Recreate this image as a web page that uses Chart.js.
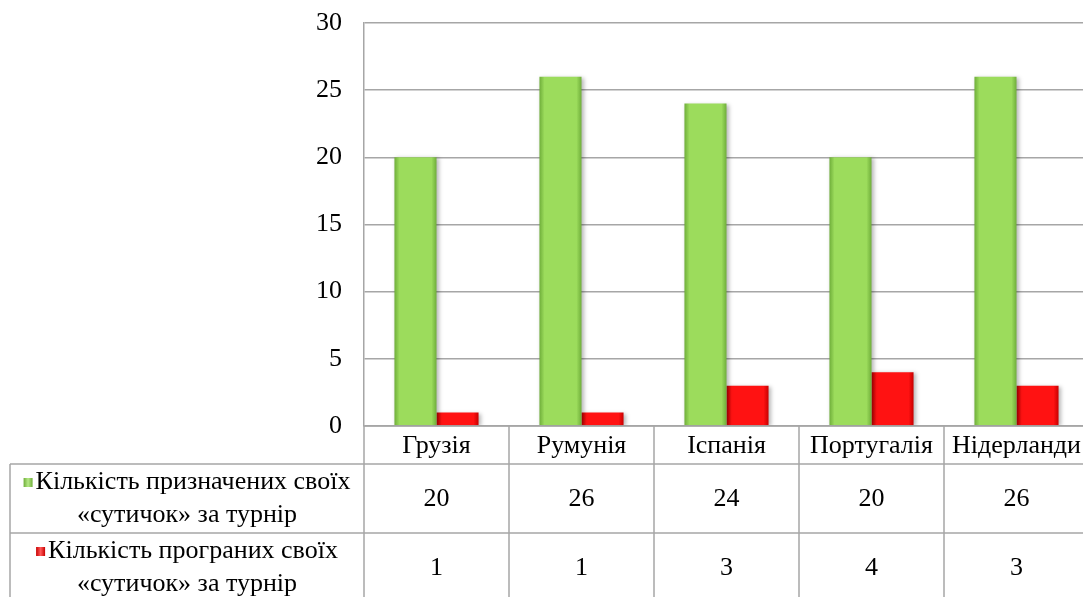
<!DOCTYPE html>
<html>
<head>
<meta charset="utf-8">
<script src="https://cdn.jsdelivr.net/npm/chart.js@4"></script>
<style>
html,body{margin:0;padding:0;background:#fff;overflow:hidden;}
#wrap{position:absolute;left:0;top:0;width:1090px;height:597px;}
</style>
</head>
<body>
<div id="wrap"><canvas id="c" width="1090" height="597"></canvas></div>
<script>
const categories = ['Грузія', 'Румунія', 'Іспанія', 'Португалія', 'Нідерланди'];
const assigned = [20, 26, 24, 20, 26];
const lost = [1, 1, 3, 4, 3];
const seriesNames = [
  ['Кількість призначених своїх', '«сутичок» за турнір'],
  ['Кількість програних своїх', '«сутичок» за турнір']
];
const yTicks = [0, 5, 10, 15, 20, 25, 30];

const FSIZE = 26;
const GRID = '#a6a6a6';
const CAT_PCT = 0.58;

// pick a serif family that really resolves on this canvas
function pickFont() {
  const t = document.createElement('canvas').getContext('2d');
  const sample = 'Кількість Грузія 0123456789';
  t.font = FSIZE + 'px "Liberation Sans"';
  const wSans = t.measureText(sample).width;
  t.font = FSIZE + 'px sans-serif';
  const wSans2 = t.measureText(sample).width;
  const candidates = ['"Liberation Serif"', 'Liberation Serif', '"Times New Roman"', 'Times', 'Tinos', 'serif', '"DejaVu Serif"'];
  for (const f of candidates) {
    t.font = FSIZE + 'px ' + f;
    const w = t.measureText(sample).width;
    if (Math.abs(w - wSans) > 0.5 && Math.abs(w - wSans2) > 0.5) return f;
  }
  return '"Liberation Serif"';
}
const FONT = pickFont();

const palettes = [
  {edge: '#6fae3a', mid: '#9cdc5c', light: '#b6e986'},
  {edge: '#c80000', mid: '#ff1212', light: '#ff5a5a'}
];

function barFill(ctx, dsIndex) {
  const chart = ctx.chart;
  const xs = chart.scales.x;
  if (!xs || ctx.dataIndex === undefined) return palettes[dsIndex].mid;
  const cw = xs.width / categories.length;
  const bw = cw * CAT_PCT / 2;
  const c = xs.getPixelForValue(ctx.dataIndex);
  const left = dsIndex === 0 ? c - bw : c;
  if (!isFinite(left) || !isFinite(bw) || bw <= 0) return palettes[dsIndex].mid;
  const g = chart.ctx.createLinearGradient(left, 0, left + bw, 0);
  const p = palettes[dsIndex];
  g.addColorStop(0, p.edge);
  g.addColorStop(0.12, p.mid);
  g.addColorStop(0.88, p.mid);
  g.addColorStop(1, p.edge);
  return g;
}

const shadowPlugin = {
  id: 'shadow',
  beforeDatasetsDraw(chart) {
    const c = chart.ctx;
    c.save();
    c.shadowColor = 'rgba(0,0,0,0.28)';
    c.shadowBlur = 4;
    c.shadowOffsetX = 2;
    c.shadowOffsetY = 1;
  },
  afterDatasetsDraw(chart) {
    chart.ctx.restore();
  }
};

const tablePlugin = {
  id: 'dataTable',
  afterDraw(chart) {
    const c = chart.ctx;
    const xs = chart.scales.x;
    const area = chart.chartArea;
    const n = categories.length;
    const cw = xs.width / n;
    const top = area.bottom;
    const headerBottom = top + 38;
    const rowH = 69;
    const row1Bottom = headerBottom + rowH;
    const tableBottom = 620;
    const leftEdge = 10;
    c.save();
    c.strokeStyle = GRID;
    c.lineWidth = 1.5;
    c.beginPath();
    c.moveTo(area.left, top); c.lineTo(area.right, top);
    c.moveTo(leftEdge, headerBottom); c.lineTo(area.right, headerBottom);
    c.moveTo(leftEdge, row1Bottom); c.lineTo(area.right, row1Bottom);
    c.moveTo(leftEdge, headerBottom); c.lineTo(leftEdge, tableBottom);
    for (let i = 0; i <= n; i++) {
      const x = xs.left + i * cw;
      c.moveTo(x, top); c.lineTo(x, tableBottom);
    }
    c.stroke();

    c.fillStyle = '#000';
    c.font = FSIZE + 'px ' + FONT;
    c.textAlign = 'center';
    c.textBaseline = 'middle';
    categories.forEach((cat, i) => {
      c.fillText(cat, xs.getPixelForValue(i), (top + headerBottom) / 2 + 1);
    });
    const rows = [assigned, lost];
    const rowTops = [headerBottom, row1Bottom];
    rows.forEach((vals, r) => {
      vals.forEach((v, i) => {
        c.fillText(String(v), xs.getPixelForValue(i), rowTops[r] + rowH / 2 + 1);
      });
      const colCenter = (leftEdge + area.left) / 2;
      const l1 = seriesNames[r][0];
      const l2 = seriesNames[r][1];
      const sq = 9, gap = 3;
      const w1 = c.measureText(l1).width + sq + gap;
      const x0 = colCenter - w1 / 2;
      const y1 = rowTops[r] + rowH / 2 - 16;
      const y2 = rowTops[r] + rowH / 2 + 17;
      const p = palettes[r];
      const g = c.createLinearGradient(x0, 0, x0 + sq, 0);
      g.addColorStop(0, p.edge); g.addColorStop(0.5, p.light); g.addColorStop(1, p.edge);
      c.fillStyle = g;
      c.fillRect(x0, y1 - sq / 2, sq, sq);
      c.fillStyle = '#000';
      c.textAlign = 'left';
      c.fillText(l1, x0 + sq + gap, y1);
      c.textAlign = 'center';
      c.fillText(l2, colCenter, y2);
    });
    c.restore();
  }
};

new Chart(document.getElementById('c'), {
  type: 'bar',
  data: {
    labels: categories,
    datasets: [
      {label: seriesNames[0].join(' '), data: assigned, backgroundColor: ctx => barFill(ctx, 0), borderWidth: 0},
      {label: seriesNames[1].join(' '), data: lost, backgroundColor: ctx => barFill(ctx, 1), borderWidth: 0}
    ]
  },
  options: {
    responsive: false,
    animation: false,
    layout: {padding: {left: 0, right: 1, top: 23, bottom: 171}},
    datasets: {bar: {categoryPercentage: CAT_PCT, barPercentage: 1.0}},
    plugins: {legend: {display: false}, tooltip: {enabled: false}},
    scales: {
      x: {display: false},
      y: {
        min: 0, max: 30,
        afterBuildTicks(scale) { scale.ticks = yTicks.map(v => ({value: v})); },
        afterFit(scale) { scale.width = 364; scale.paddingTop = 0; scale.paddingBottom = 0; },
        grid: {color: GRID, lineWidth: 1.5, drawTicks: false},
        border: {display: true, color: GRID, width: 1.5},
        ticks: {color: '#000', font: {family: FONT, size: FSIZE}, padding: 22}
      }
    }
  },
  plugins: [shadowPlugin, tablePlugin]
});
</script>
</body>
</html>
